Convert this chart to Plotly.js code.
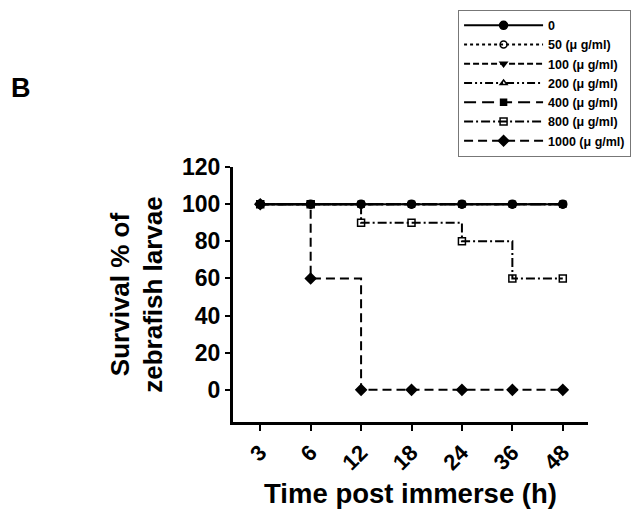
<!DOCTYPE html>
<html>
<head>
<meta charset="utf-8">
<script src="https://cdn.plot.ly/plotly-3.0.1.min.js"></script>
<style>html,body{margin:0;padding:0;background:#fff;}</style>
</head>
<body>
<div id="chart" style="width:641px;height:513px;"></div>
<script>
const times = ['3', '6', '12', '18', '24', '36', '48'];
const seriesNames = ['0', '50 (μ g/ml)', '100 (μ g/ml)', '200 (μ g/ml)', '400 (μ g/ml)', '800 (μ g/ml)', '1000 (μ g/ml)'];
const s0 = [100, 100, 100, 100, 100, 100, 100];
const s50 = [100, 100, 100, 100, 100, 100, 100];
const s100 = [100, 100, 100, 100, 100, 100, 100];
const s200 = [100, 100, 100, 100, 100, 100, 100];
const s400 = [100, 100, 100, 100, 100, 100, 100];
const s800 = [100, 100, 90, 90, 80, 60, 60];
const s1000 = [100, 60, 0, 0, 0, 0, 0];
const yTicks = [0, 20, 40, 60, 80, 100, 120];

const FONT = 'Liberation Sans, Arial, sans-serif';
const styles = [
  {data: s0, dash: 'solid', symbol: 'circle', rank: 1, size: 8},
  {data: s50, dash: 'dot', symbol: 'circle-open', rank: 2, size: 7},
  {data: s100, dash: '6px,3px', symbol: 'triangle-down', rank: 3, size: 6},
  {data: s200, dash: '8px,3px,2px,3px,2px,3px', symbol: 'triangle-up-open', rank: 4, size: 6},
  {data: s400, dash: '12px,6px', symbol: 'square', rank: 5, size: 6},
  {data: s800, dash: '9px,3px,2px,3px', symbol: 'square-open', rank: 6, size: 7},
  {data: s1000, dash: '9px,5px', symbol: 'diamond', rank: 7, size: 8}
];
// draw order: changing series first, constant ones on top
const drawOrder = [5, 6, 4, 3, 2, 1, 0];
const traces = drawOrder.map(i => ({
  x: times,
  y: styles[i].data,
  name: seriesNames[i],
  type: 'scatter',
  mode: 'lines+markers',
  line: {shape: 'hv', color: '#000', width: 2, dash: styles[i].dash},
  marker: {symbol: styles[i].symbol, size: styles[i].size, color: '#000', line: {color: '#000', width: 1.5}},
  legendrank: styles[i].rank
}));

const layout = {
  width: 641, height: 513,
  margin: {l: 233, r: 53, t: 167, b: 91, autoexpand: false},
  paper_bgcolor: '#fff', plot_bgcolor: '#fff',
  font: {family: FONT, color: '#000'},
  showlegend: true,
  legend: {
    x: 0.634, y: 1.617, xanchor: 'left', yanchor: 'top',
    bordercolor: '#777', borderwidth: 1, bgcolor: '#fff',
    font: {family: FONT, size: 12.5, weight: 'bold', color: '#000'},
    itemwidth: 79, tracegroupgap: 0
  },
  xaxis: {
    type: 'category', range: [-0.54, 6.5],
    showline: true, linecolor: '#000', linewidth: 3,
    ticks: 'outside', ticklen: 6, tickwidth: 2, tickcolor: '#000',
    tickangle: -45, showgrid: false, zeroline: false,
    tickfont: {family: FONT, size: 22, weight: 'bold'},
    title: {text: 'Time post immerse (h)', font: {family: FONT, size: 27.5, weight: 'bold'}, standoff: 10}
  },
  yaxis: {
    range: [-17.3, 120],
    tickvals: yTicks, ticktext: yTicks.map(String),
    showline: true, linecolor: '#000', linewidth: 3,
    ticks: 'outside', ticklen: 5, tickwidth: 2, tickcolor: '#000',
    showgrid: false, zeroline: false,
    tickfont: {family: FONT, size: 23, weight: 'bold'},
    title: {text: 'Survival % of<br>zebrafish larvae', font: {family: FONT, size: 26, weight: 'bold'}, standoff: 12}
  },
  annotations: [{
    text: 'B', xref: 'paper', yref: 'paper', x: -0.597, y: 1.31,
    xanchor: 'center', yanchor: 'middle', showarrow: false,
    font: {family: FONT, size: 27, weight: 'bold', color: '#000'}
  }]
};

Plotly.newPlot('chart', traces, layout, {displayModeBar: false, staticPlot: true});
</script>
</body>
</html>
